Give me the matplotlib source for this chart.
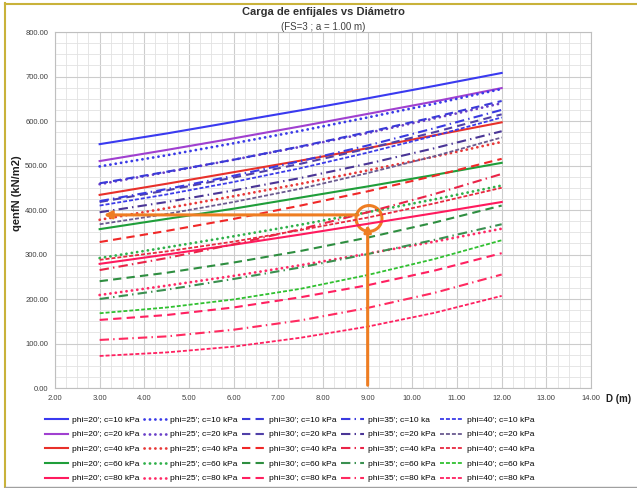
import numpy as np
import matplotlib.pyplot as plt
from matplotlib.lines import Line2D
from matplotlib.patches import Ellipse
from matplotlib.ticker import MultipleLocator, FormatStrFormatter

plt.rcParams['font.family'] = ['Liberation Sans', 'DejaVu Sans']

# Diameter values (m)
D = [3, 4.5, 6, 7.5, 9, 10.5, 12]

# qenfN (kN/m2), rows are c = 10, 20, 40, 60, 80 kPa
q_phi20 = [[548, 572, 598, 624, 651, 679, 708],
           [510, 535, 561, 588, 616, 644, 674],
           [434, 459, 485, 511, 539, 568, 597],
           [357, 380, 403, 428, 453, 479, 506],
           [279, 300, 322, 345, 369, 393, 418]]
q_phi25 = [[498, 523, 550, 578, 608, 639, 672],
           [458, 485, 513, 542, 573, 606, 640],
           [378, 404, 431, 459, 489, 520, 553],
           [292, 316, 341, 367, 395, 424, 455],
           [209, 230, 252, 276, 302, 329, 358]]
q_phi30 = [[460, 486, 513, 543, 575, 609, 645],
           [418, 444, 473, 504, 538, 575, 615],
           [328, 353, 380, 410, 442, 477, 515],
           [240, 259, 282, 308, 338, 372, 410],
           [153, 164, 181, 204, 231, 264, 303]]
q_phi35 = [[420, 447, 477, 510, 545, 584, 625],
           [395, 418, 444, 472, 504, 539, 577],
           [265, 292, 323, 357, 395, 436, 481],
           [200, 221, 245, 271, 301, 333, 368],
           [108, 116, 131, 152, 180, 214, 255]]
q_phi40 = [[410, 435, 463, 494, 529, 567, 608],
           [368, 391, 418, 448, 483, 521, 563],
           [288, 307, 329, 355, 383, 415, 450],
           [168, 181, 199, 223, 254, 290, 332],
           [72, 80, 93, 113, 138, 169, 207]]

labels_phi20 = ["phi=20'; c=10 kPa", "phi=20'; c=20 kPa", "phi=20'; c=40 kPa",
                "phi=20'; c=60 kPa", "phi=20'; c=80 kPa"]
labels_phi25 = ["phi=25'; c=10 kPa", "phi=25'; c=20 kPa", "phi=25'; c=40 kPa",
                "phi=25'; c=60 kPa", "phi=25'; c=80 kPa"]
labels_phi30 = ["phi=30'; c=10 kPa", "phi=30'; c=20 kPa", "phi=30'; c=40 kPa",
                "phi=30'; c=60 kPa", "phi=30'; c=80 kPa"]
labels_phi35 = ["phi=35'; c=10 ka", "phi=35'; c=20 kPa", "phi=35'; c=40 kPa",
                "phi=35'; c=60 kPa", "phi=35'; c=80 kPa"]
labels_phi40 = ["phi=40'; c=10 kPa", "phi=40'; c=20 kPa", "phi=40'; c=40 kPa",
                "phi=40'; c=60 kPa", "phi=40'; c=80 kPa"]

# reading shown with the orange arrows
D_read = 9.0
q_read = 386

series = [q_phi20, q_phi25, q_phi30, q_phi35, q_phi40]
labels = [labels_phi20, labels_phi25, labels_phi30, labels_phi35, labels_phi40]

colors = [["#3a3af0", "#a040d0", "#e8302a", "#1f9e3a", "#ff1a5e"],
          ["#3a3ae8", "#6a40c8", "#e83838", "#2fb04a", "#ff2a66"],
          ["#3a3ad8", "#5040a8", "#f02828", "#2e8e40", "#ff2060"],
          ["#3a3ae0", "#4a3596", "#ea2448", "#3a9050", "#ff2a60"],
          ["#3a3ae8", "#6a5a90", "#e82840", "#30c030", "#ff2060"]]
styles = ['-', (0, (0.05, 1.9)), (0, (4, 2.5)), (0, (4.5, 2, 0.7, 2)), (0, (2.2, 1.1))]
widths = [1.5, 2.0, 1.5, 1.5, 1.3]

fig = plt.figure(figsize=(6.37, 4.88), dpi=100)
ax = fig.add_axes([0.0863, 0.2049, 0.8415, 0.7295])

handles = []
hlabels = []
for i in range(5):
    for j in range(5):
        ln, = ax.plot(D, series[i][j], color=colors[i][j], linestyle=styles[i],
                      lw=widths[i], dash_capstyle='round' if i == 1 else 'butt',
                      label=labels[i][j])
        handles.append(ln)
        hlabels.append(labels[i][j])

ax.set_xlim(2, 14)
ax.set_ylim(0, 800)
ax.xaxis.set_major_locator(MultipleLocator(1))
ax.xaxis.set_minor_locator(MultipleLocator(0.25))
ax.yaxis.set_major_locator(MultipleLocator(100))
ax.yaxis.set_minor_locator(MultipleLocator(25))
ax.xaxis.set_major_formatter(FormatStrFormatter('%.2f'))
ax.yaxis.set_major_formatter(FormatStrFormatter('%.2f'))
ax.grid(which='major', color='#cccccc', lw=0.8)
ax.grid(which='minor', color='#e2e2e2', lw=0.6)
ax.set_axisbelow(True)
ax.tick_params(which='both', length=0, labelsize=5.5, colors='#404040', pad=5)
for s in ax.spines.values():
    s.set_color('#bfbfbf')
    s.set_linewidth(0.8)

orange = '#ee7d22'
ax.annotate('', xy=(D_read, q_read - 13), xytext=(D_read, 0),
            arrowprops=dict(arrowstyle='-|>', color=orange, lw=2.2, mutation_scale=10))
ax.annotate('', xy=(3.03, q_read + 3), xytext=(D_read - 0.15, q_read + 3),
            arrowprops=dict(arrowstyle='-|>', color=orange, lw=2.2, mutation_scale=11))
ax.add_patch(Ellipse((D_read + 0.03, q_read - 5), width=0.58, height=58, fill=False,
                     ec=orange, lw=2.2))

fig.text(0.507, 0.975, 'Carga de enfijales vs Diámetro', ha='center', va='center',
         fontsize=8, fontweight='bold', color='#303030')
fig.text(0.507, 0.945, '(FS=3 ; a = 1.00 m)', ha='center', va='center',
         fontsize=7, color='#404040')
fig.text(606 / 637, 1 - 399 / 488, 'D (m)', ha='left', va='center',
         fontsize=7, fontweight='bold', color='#202020')
fig.text(17 / 637, 1 - 193 / 488, 'qenfN (kN/m2)', ha='center', va='center',
         rotation=90, fontsize=8, fontweight='bold', color='#202020')

fig.legend(handles, hlabels, ncol=5, loc='upper left',
           bbox_to_anchor=(45 / 637, 1 - 416 / 488), frameon=False, fontsize=6,
           handlelength=2.75, handletextpad=0.45, columnspacing=0.55,
           labelspacing=0.82, borderpad=0, borderaxespad=0)

# frame around the picture
fig.add_artist(Line2D([5 / 637, 5 / 637], [0, 1 - 3 / 488], color='#c9b23a', lw=1.5))
fig.add_artist(Line2D([5 / 637, 1], [1 - 4 / 488, 1 - 4 / 488], color='#c9b23a', lw=1.5))
fig.add_artist(Line2D([5 / 637, 1], [1.5 / 488, 1.5 / 488], color='#a0a0a0', lw=1.0))

fig.savefig('out.png', dpi=100)
